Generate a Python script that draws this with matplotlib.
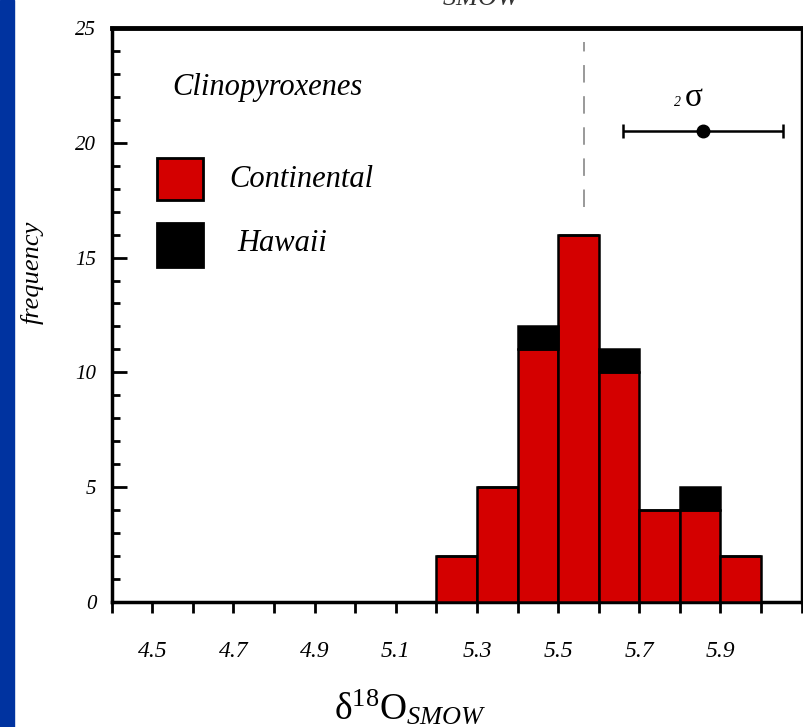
import numpy as np
import matplotlib.pyplot as plt
from matplotlib.patches import Rectangle

# histogram bins (delta18O, per mil) and counts
bin_left = [5.2, 5.3, 5.4, 5.5, 5.6, 5.7, 5.8, 5.9]
continental = [2, 5, 11, 16, 10, 4, 4, 2]
hawaii = [0, 0, 1, 0, 1, 0, 1, 0]
bin_width = 0.1

xtick_pos = [4.5, 4.7, 4.9, 5.1, 5.3, 5.5, 5.7, 5.9]
xtick_labels = ['4.5', '4.7', '4.9', '5.1', '5.3', '5.5', '5.7', '5.9']
ytick_pos = [0, 5, 10, 15, 20, 25]
ytick_labels = ['0', '5', '10', '15', '20', '25']
mean_line = 5.563
sigma_x, sigma_y, sigma_err = 5.858, 20.5, 0.197

red = '#d40000'
serif = 'Liberation Serif'
plt.rcParams['font.family'] = serif
plt.rcParams['mathtext.fontset'] = 'custom'
plt.rcParams['mathtext.rm'] = serif
plt.rcParams['mathtext.it'] = serif + ':italic'

fig = plt.figure(figsize=(8.04, 7.27), dpi=100)
fig.patch.set_facecolor('white')
# blue slide strip at the left edge
fig.patches.append(Rectangle((0, 0), 14 / 804, 1, transform=fig.transFigure,
                             color='#0033a0', zorder=0))

ax = fig.add_axes([0.139, 0.172, 0.858, 0.7895])

ax.bar(bin_left, continental, width=bin_width, align='edge', color=red,
       edgecolor='black', linewidth=1.8, zorder=3)
ax.bar(bin_left, hawaii, width=bin_width, bottom=continental, align='edge',
       color='black', edgecolor='black', linewidth=1.8, zorder=3)

# mean dashed line
ax.plot([mean_line, mean_line], [17.2, 24.4], color='#999999', lw=1.4,
        dashes=(9, 7), zorder=2)

# 2 sigma error bar
ax.errorbar([sigma_x], [sigma_y], xerr=[[sigma_err], [sigma_err]], fmt='o',
            color='black', ms=9, lw=1.8, capsize=5, capthick=1.8, zorder=4)
ax.text(sigma_x - 0.055, 21.6, '2', fontsize=10, style='italic',
        ha='right', va='baseline')
ax.text(sigma_x - 0.045, 21.6, 'σ', fontsize=24, ha='left', va='baseline')

ax.text(4.55, 22.4, 'Clinopyroxenes', fontsize=22, style='italic',
        ha='left', va='center')

# legend boxes drawn by hand
ax.add_patch(Rectangle((4.512, 17.5), 0.113, 1.85, facecolor=red,
                       edgecolor='black', lw=2, zorder=3))
ax.add_patch(Rectangle((4.512, 14.6), 0.113, 1.9, facecolor='black',
                       edgecolor='black', lw=2, zorder=3))
ax.text(4.69, 18.4, 'Continental', fontsize=22, style='italic',
        ha='left', va='center')
ax.text(4.71, 15.6, 'Hawaii', fontsize=22, style='italic',
        ha='left', va='center')

ax.set_xlim(4.4, 6.1)
ax.set_ylim(0, 25)

ax.set_xticks(xtick_pos)
ax.set_xticklabels(xtick_labels, fontsize=17, fontstyle='italic')
ax.set_xticks(np.arange(4.4, 6.11, 0.1), minor=True)
ax.tick_params(axis='x', which='both', direction='out', length=8, width=2)
ax.tick_params(axis='x', which='major', pad=20)

ax.set_yticks(ytick_pos)
ax.set_yticklabels(ytick_labels, fontsize=15, fontstyle='italic')
ax.set_yticks(np.arange(0, 26, 1), minor=True)
ax.tick_params(axis='y', which='major', direction='in', length=11, width=2,
               pad=11)
ax.tick_params(axis='y', which='minor', direction='in', length=6, width=2)

for side in ['left', 'bottom', 'top', 'right']:
    ax.spines[side].set_linewidth(2.5)
ax.spines['top'].set_linewidth(3.5)

fig.text(32 / 804, 1 - 272 / 727, 'frequency', fontsize=19, style='italic',
         rotation=90, ha='center', va='center')
ax.set_xlabel(r'$\mathregular{\delta^{18}O}_{SMOW}$', fontsize=27)
ax.xaxis.set_label_coords(0.432, -0.15)

# top title, mostly cut off by the frame (as in the source slide)
fig.text(0.555, 0.989, r'$\mathregular{\delta^{18}O}_{SMOW}$', fontsize=27,
         ha='center', va='bottom', color='#333333')

fig.savefig('out.png', dpi=100)
